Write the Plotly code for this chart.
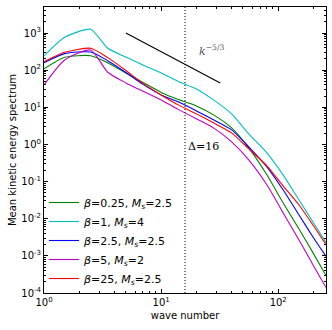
import plotly.graph_objects as go

# wave numbers (bins)
k = [1, 1.5, 2.5, 3.5, 5, 7, 10, 14, 20, 28, 40, 56, 80, 110, 150, 200, 256]

E_b025_M25 = [108, 222, 245, 159, 84, 46.7, 25.2, 16.3, 10.9, 6.25, 2.79, 0.81, 0.152, 0.0269, 0.00538, 0.00115, 0.000294]
E_b1_M4 = [241, 766, 1257, 388, 226, 138, 84, 49.7, 31.2, 15.8, 6.65, 1.93, 0.594, 0.152, 0.0324, 0.0078, 0.00226]
E_b25_M25 = [159, 278, 308, 180, 86.7, 41.3, 21.5, 14.0, 8.0, 4.59, 2.47, 0.862, 0.25, 0.0602, 0.0128, 0.00308, 0.00097]
E_b5_M2 = [40, 188, 349, 87.9, 45.3, 27.1, 15.8, 8.78, 4.88, 2.79, 1.17, 0.386, 0.082, 0.0145, 0.00272, 0.000545, 0.00014]
E_b25big_M25 = [169, 303, 388, 217, 98, 43.9, 21.5, 11.6, 6.65, 3.81, 2.05, 0.761, 0.266, 0.077, 0.0238, 0.00648, 0.0020]

series_names = [
    "<i>β</i>=0.25, <i>M<sub>s</sub></i>=2.5",
    "<i>β</i>=1, <i>M<sub>s</sub></i>=4",
    "<i>β</i>=2.5, <i>M<sub>s</sub></i>=2.5",
    "<i>β</i>=5, <i>M<sub>s</sub></i>=2",
    "<i>β</i>=25, <i>M<sub>s</sub></i>=2.5",
]
series_values = [E_b025_M25, E_b1_M4, E_b25_M25, E_b5_M2, E_b25big_M25]
series_colors = ["#008000", "#00bfbf", "#0000ff", "#bf00bf", "#ff0000"]

# Kolmogorov reference slope
ref_k = [5, 32]
ref_E = [1000, 45.3]

delta_k = 16

ytick_vals = [1e-4, 1e-3, 1e-2, 1e-1, 1, 10, 100, 1000]
ytick_text = ["10<sup>-4</sup>", "10<sup>-3</sup>", "10<sup>-2</sup>", "10<sup>-1</sup>",
              "10<sup>0</sup>", "10<sup>1</sup>", "10<sup>2</sup>", "10<sup>3</sup>"]
xtick_vals = [1, 10, 100]
xtick_text = ["10<sup>0</sup>", "10<sup>1</sup>", "10<sup>2</sup>"]

fig = go.Figure()
for name, vals, col in zip(series_names, series_values, series_colors):
    fig.add_trace(go.Scatter(x=k, y=vals, mode="lines", name=name,
                             line=dict(color=col, width=1.1, shape="spline", smoothing=0.6)))

fig.add_trace(go.Scatter(x=ref_k, y=ref_E, mode="lines", showlegend=False,
                         line=dict(color="black", width=1.1)))

fig.add_shape(type="line", xref="x", yref="paper", x0=delta_k, x1=delta_k, y0=0, y1=1,
              line=dict(color="black", width=1, dash="1px,2px"))

fig.add_annotation(x=1.436, y=2.54, xref="x", yref="y", text="<i>k</i><sup>−5/3</sup>",
                   showarrow=False, font=dict(family="DejaVu Serif", size=11, color="#555555"))
fig.add_annotation(x=1.359, y=-0.065, xref="x", yref="y", text="Δ=16",
                   showarrow=False, font=dict(family="DejaVu Serif", size=11, color="black"))

axis_common = dict(showline=True, linecolor="black", linewidth=1, mirror="allticks",
                   ticks="inside", ticklen=4, tickcolor="black", showgrid=False, zeroline=False,
                   automargin=False,
                   tickfont=dict(family="DejaVu Sans", size=10, color="black"))

fig.update_xaxes(type="log", range=[0, 2.408], tickvals=xtick_vals, ticktext=xtick_text,
                 title=dict(text="wave number", font=dict(family="DejaVu Sans", size=10, color="black"), standoff=4),
                 minor=dict(ticks="inside", ticklen=2, tickcolor="black", dtick="D1"),
                 **axis_common)
fig.update_yaxes(type="log", range=[-4, 3.7], tickvals=ytick_vals, ticktext=ytick_text,
                 title=dict(text="Mean kinetic energy spectrum", font=dict(family="DejaVu Sans", size=10, color="black"), standoff=2),
                 minor=dict(ticks="inside", ticklen=2, tickcolor="black", dtick="D1"),
                 **axis_common)

fig.update_layout(
    width=332, height=330,
    margin=dict(l=44, r=6, t=7, b=37),
    paper_bgcolor="white", plot_bgcolor="white",
    showlegend=True,
    legend=dict(x=0.0, y=0.0, xanchor="left", yanchor="bottom",
                bgcolor="rgba(0,0,0,0)", borderwidth=0,
                font=dict(family="DejaVu Sans", size=11, color="black"),
                tracegroupgap=0, itemwidth=30),
)

fig.write_html("out.html", config={"displayModeBar": False},
               post_script="document.body.style.margin='0px';")
